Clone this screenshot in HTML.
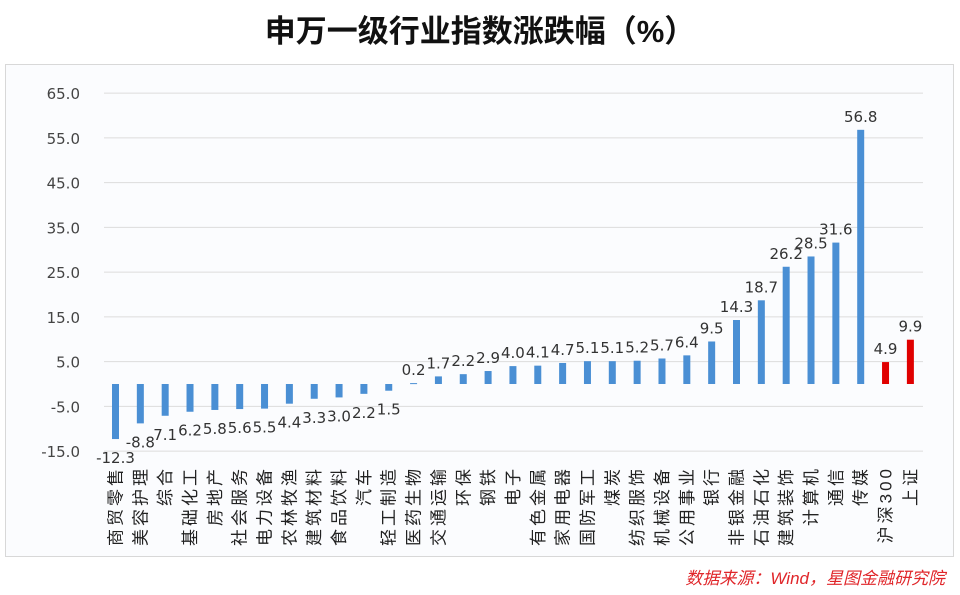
<!DOCTYPE html>
<html><head><meta charset="utf-8"><style>
body{margin:0;background:#fff;width:960px;height:595px;overflow:hidden}
svg{display:block}
</style></head><body>
<svg width="960" height="595" xmlns="http://www.w3.org/2000/svg" font-family="'DejaVu Sans','Liberation Sans','Noto Sans CJK SC',sans-serif">
<rect x="0" y="0" width="960" height="595" fill="#fff"/>
<text x="480" y="42" text-anchor="middle" font-size="31" font-weight="bold" fill="#111" font-family="'Liberation Sans','Noto Sans CJK SC',sans-serif">申万一级行业指数涨跌幅（%）</text>
<rect x="5.5" y="64.5" width="948" height="492" fill="#fbfcfe" stroke="#d8d8d8"/>
<g id="g"></g>
<text x="945" y="584" text-anchor="end" font-size="17" font-style="italic" fill="#e0262a" font-family="'Liberation Sans','Noto Sans CJK SC',sans-serif">数据来源：Wind，星图金融研究院</text>
</svg>
<script>
var g=document.getElementById('g'),h='';
var z=384,u=4.475;
for(var v=65;v>=-15;v-=10){var y=z-v*u;h+='<line x1="104" x2="923" y1="'+y+'" y2="'+y+'" stroke="#dcdcdc" stroke-width="1"/>';h+='<text x="80" y="'+(y+6)+'" text-anchor="end" font-size="15" fill="#444">'+v.toFixed(1)+'</text>';}
var n=['商贸零售','美容护理','综合','基础化工','房地产','社会服务','电力设备','农林牧渔','建筑材料','食品饮料','汽车','轻工制造','医药生物','交通运输','环保','钢铁','电子','有色金属','家用电器','国防军工','煤炭','纺织服饰','机械设备','公用事业','银行','非银金融','石油石化','建筑装饰','计算机','通信','传媒','沪深300','上证'];
var d=[-12.3,-8.8,-7.1,-6.2,-5.8,-5.6,-5.5,-4.4,-3.3,-3.0,-2.2,-1.5,0.2,1.7,2.2,2.9,4.0,4.1,4.7,5.1,5.1,5.2,5.7,6.4,9.5,14.3,18.7,26.2,28.5,31.6,56.8,4.9,9.9];
for(var i=0;i<33;i++){var x=115.5+i*24.84,val=d[i],c=i>=31?'#e00000':'#4a8fd4';
var y1=val>=0?z-val*u:z,hh=Math.abs(val)*u;
h+='<rect x="'+(x-3.5)+'" y="'+y1+'" width="7" height="'+Math.max(hh,1)+'" fill="'+c+'"/>';
var ly=val>=0?z-val*u-8:z-val*u+24;
var t=(val<0&&i>1)?Math.abs(val).toFixed(1):val.toFixed(1);
h+='<text x="'+x+'" y="'+ly+'" text-anchor="middle" font-size="15" fill="#333">'+t+'</text>';
h+='<text transform="translate('+(x+6)+',466) rotate(-90)" text-anchor="end" font-size="17" letter-spacing="3" fill="#222" font-family="\'Liberation Sans\',\'Noto Sans CJK SC\',sans-serif">'+n[i]+'</text>';}
g.innerHTML=h;
</script>
</body></html>
